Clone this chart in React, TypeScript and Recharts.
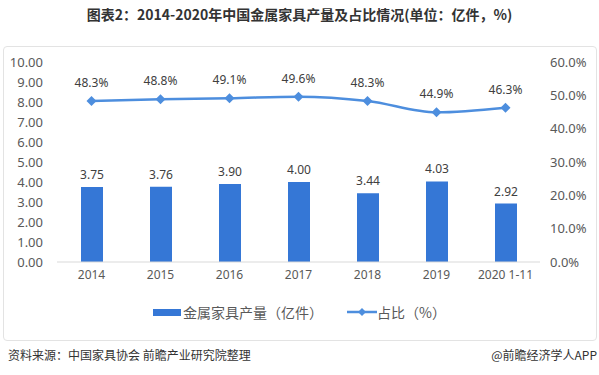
import { ComposedChart, Bar, Line, XAxis, YAxis, LabelList } from "recharts";

const years = ["2014", "2015", "2016", "2017", "2018", "2019", "2020 1-11"];
const output = [3.75, 3.76, 3.9, 4.0, 3.44, 4.03, 2.92];
const share = [48.3, 48.8, 49.1, 49.6, 48.3, 44.9, 46.3];
const leftTicks = [0, 1, 2, 3, 4, 5, 6, 7, 8, 9, 10];
const rightTicks = [0, 10, 20, 30, 40, 50, 60];

const data = years.map((year, i) => ({ year, output: output[i], share: share[i] }));

const BAR_COLOR = "#3577d6";
const LINE_COLOR = "#4d8ede";
const FONT = "'Noto Sans', 'Noto Sans CJK SC', sans-serif";

const Diamond = (props: any) => {
  const { cx, cy } = props;
  if (cx == null || cy == null) return null;
  return <path d={`M${cx},${cy - 5}L${cx + 5},${cy}L${cx},${cy + 5}L${cx - 5},${cy}Z`} fill={LINE_COLOR} />;
};

export default function App() {
  return (
    <div style={{ position: "absolute", left: 0, top: 0, width: 599, height: 375, background: "#fff", fontFamily: FONT }}>
      <div style={{ position: "absolute", top: 4, left: 0, width: 599, textAlign: "center", fontSize: 14, fontWeight: "bold", color: "#333", fontFamily: "'Noto Sans CJK SC', sans-serif" }}>
        图表2：2014-2020年中国金属家具产量及占比情况(单位：亿件，%)
      </div>
      <div style={{ position: "absolute", left: 3, top: 46, width: 592, height: 293, border: "1px solid #e3e3e3", borderRadius: 4 }} />
      <div style={{ position: "absolute", left: 0, top: 46 }}>
        <ComposedChart width={599} height={294} data={data} margin={{ top: 16, right: 0, bottom: 48, left: 0 }}>
          <XAxis
            dataKey="year"
            tickLine={false}
            axisLine={{ stroke: "#d9d9d9" }}
            tick={{ fill: "#595959", fontSize: 12, fontFamily: FONT }}
            height={30}
            interval={0}
          />
          <YAxis
            yAxisId="left"
            domain={[0, 10]}
            ticks={leftTicks}
            interval={0}
            tickFormatter={(v: number) => v.toFixed(2)}
            axisLine={false}
            tickLine={false}
            tickMargin={8}
            width={57}
            tick={{ fill: "#595959", fontSize: 13, fontFamily: FONT }}
          />
          <YAxis
            yAxisId="right"
            orientation="right"
            domain={[0, 60]}
            ticks={rightTicks}
            interval={0}
            tickFormatter={(v: number) => v.toFixed(1) + "%"}
            axisLine={false}
            tickLine={false}
            tickMargin={4}
            width={59}
            tick={{ fill: "#595959", fontSize: 13, fontFamily: FONT }}
          />
          <Bar yAxisId="left" dataKey="output" fill={BAR_COLOR} barSize={22} isAnimationActive={false}>
            <LabelList dataKey="output" position="top" offset={8} formatter={(v: any) => Number(v).toFixed(2)} style={{ fill: "#404040", fontSize: 12, fontFamily: FONT }} />
          </Bar>
          <Line
            yAxisId="right"
            type="monotone"
            dataKey="share"
            stroke={LINE_COLOR}
            strokeWidth={2.5}
            dot={<Diamond />}
            activeDot={false}
            isAnimationActive={false}
          >
            <LabelList dataKey="share" position="top" offset={14} formatter={(v: any) => Number(v).toFixed(1) + "%"} style={{ fill: "#404040", fontSize: 12, fontFamily: FONT }} />
          </Line>
        </ComposedChart>
      </div>
      <div style={{ position: "absolute", top: 302, left: 0, width: 599, display: "flex", justifyContent: "center", alignItems: "center", fontSize: 14, color: "#595959", fontFamily: "'Noto Sans CJK SC', sans-serif" }}>
        <span style={{ display: "inline-block", width: 28, height: 7, background: BAR_COLOR, marginRight: 2 }} />
        <span>金属家具产量（亿件）</span>
        <svg width={30} height={12} style={{ marginLeft: 24 }}>
          <line x1={0} y1={6} x2={30} y2={6} stroke={LINE_COLOR} strokeWidth={2.5} />
          <path d="M15,2L19,6L15,10L11,6Z" fill={LINE_COLOR} />
        </svg>
        <span>占比（%）</span>
      </div>
      <div style={{ position: "absolute", top: 346, left: 8, fontSize: 12, color: "#333", fontFamily: "'Noto Sans CJK SC', sans-serif" }}>
        资料来源：中国家具协会 前瞻产业研究院整理
      </div>
      <div style={{ position: "absolute", top: 346, right: 2, fontSize: 12, color: "#333", fontFamily: "'Noto Sans CJK SC', sans-serif" }}>
        @前瞻经济学人APP
      </div>
    </div>
  );
}
